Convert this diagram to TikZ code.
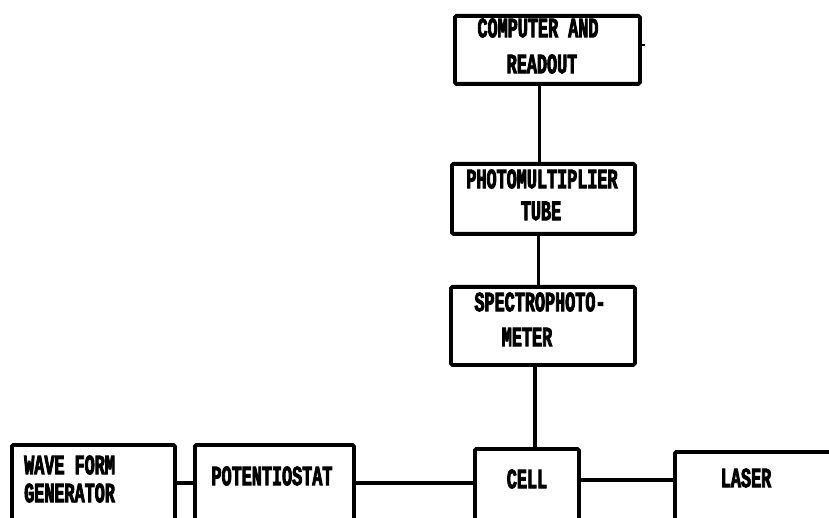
\documentclass[tikz,border=0pt]{standalone}
\usepackage{fontspec}
\newfontfamily\tw{Liberation Mono}[FakeStretch=0.6, FakeBold=3]
\begin{document}
\begin{tikzpicture}[x=1pt,y=-1pt,
  boxx/.style={draw, line width=3.8pt, rounded corners=1.5pt, inner sep=0pt, anchor=north west},
  wire/.style={line width=3.4pt},
  txt/.style={inner sep=0pt, font=\tw\bfseries\fontsize{28}{30}\selectfont},
]
\useasboundingbox (0,0) rectangle (829,518);
\clip (0,0) rectangle (829,518);
% boxes
\node[boxx, minimum width=185pt, minimum height=68pt] (comp) at (453,14) {};
\node[boxx, minimum width=183pt, minimum height=70pt] (pmt) at (450,162) {};
\node[boxx, minimum width=184pt, minimum height=78pt] (spec) at (449,285) {};
\node[boxx, minimum width=163pt, minimum height=100pt] (wave) at (10,443) {};
\node[boxx, minimum width=159pt, minimum height=100pt] (pot) at (193,443) {};
\node[boxx, minimum width=104pt, minimum height=100pt] (cell) at (473,447) {};
\node[boxx, minimum width=190pt, minimum height=100pt] (laser) at (673,450) {};
% texts
\node[txt] (t1) at (538,28) {COMPUTER AND};
\node[txt] (t2) at (542,64) {READOUT};
\node[txt] (t3) at (542,179) {PHOTOMULTIPLIER};
\node[txt] (t4) at (541,211) {TUBE};
\node[txt] (t5) at (540,302) {SPECTROPHOTO-};
\node[txt] (t6) at (527,337) {METER};
\node[txt, anchor=west] (t7) at (24,465) {WAVE FORM};
\node[txt, anchor=west] (t8) at (24,493) {GENERATOR};
\node[txt] (t9) at (272,476) {POTENTIOSTAT};
\node[txt] (t10) at (527,479) {CELL};
\node[txt] (t11) at (746,478) {LASER};
% connectors
\coordinate (hA) at (0,483);
\coordinate (hB) at (0,480);
\coordinate (tick) at (645,45);
\draw[wire] ([xshift=-8pt]comp.south) -- ([xshift=-8pt]comp.south |- pmt.north);
\draw[wire] ([xshift=-5pt]pmt.south) -- ([xshift=-5pt]pmt.south |- spec.north);
\draw[wire] ([xshift=-8pt]spec.south) -- ([xshift=-8pt]spec.south |- cell.north);
\draw[wire] (wave.east |- hA) -- (pot.west |- hA);
\draw[wire] (pot.east |- hA) -- (cell.west |- hA);
\draw[wire] (cell.east |- hB) -- (laser.west |- hB);
\draw[line width=2pt] (comp.east |- tick) -- (tick);
\end{tikzpicture}
\end{document}
